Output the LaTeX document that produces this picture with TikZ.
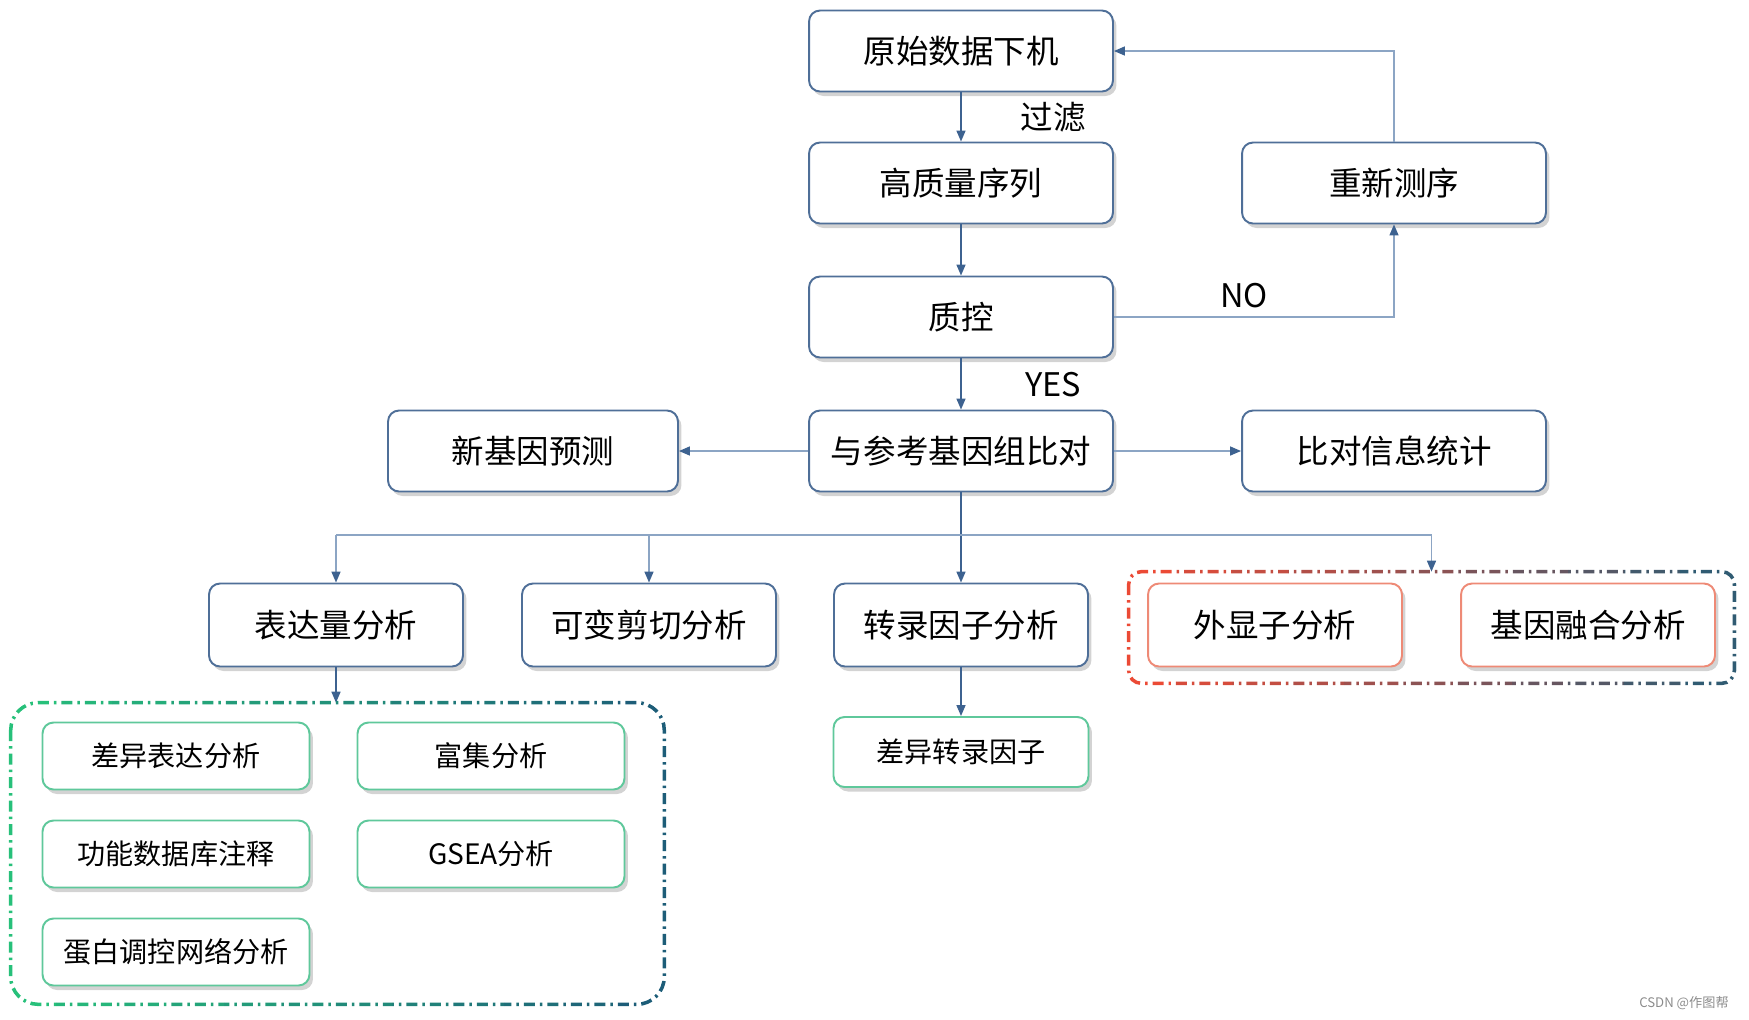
\documentclass[tikz,border=0pt]{standalone}
\usepackage{fontspec}
\setmainfont{Noto Sans CJK SC}
\usetikzlibrary{arrows.meta,shadows}
\definecolor{boxblue}{HTML}{4F6F98}
\definecolor{lineblue}{HTML}{3D6290}
\definecolor{lightline}{HTML}{8CA5C4}
\definecolor{boxgreen}{HTML}{5FC89B}
\definecolor{boxred}{HTML}{EE8A76}
\definecolor{grpgreen}{HTML}{27C07A}
\definecolor{grpteal}{HTML}{1D5D78}
\definecolor{grpred}{HTML}{EB4A35}

\begin{document}
\begin{tikzpicture}[x=0.02cm,y=-0.02cm,
  box/.style={draw=boxblue,line width=1.1pt,fill=white,rounded corners=0.22cm,
    drop shadow={shadow xshift=0.07cm,shadow yshift=-0.09cm,opacity=0.35},
    minimum width=6.08cm,minimum height=1.62cm,font=\fontsize{18.5pt}{22pt}\selectfont},
  sbox/.style={box,minimum width=5.08cm,minimum height=1.66cm},
  gbox/.style={box,draw=boxgreen,minimum width=5.34cm,minimum height=1.34cm,font=\fontsize{16pt}{19pt}\selectfont},
  rbox/.style={sbox,draw=boxred},
  lbl/.style={font=\fontsize{18.5pt}{22pt}\selectfont},
  arr/.style={draw=lineblue,line width=0.85pt,-{Triangle[length=0.22cm,width=0.18cm]}},
  larr/.style={draw=lightline,line width=0.85pt,-{Triangle[length=0.22cm,width=0.18cm,color=lineblue]}},
  grp/.style={line width=2pt,dash pattern=on 0.22cm off 0.1cm on 0.05cm off 0.1cm}]
\useasboundingbox (0,0) rectangle (1749,1019);
%main line
\node[box] (raw) at (961,51) {原始数据下机};
\node[box] (hq) at (961,183) {高质量序列};
\node[box] (qc) at (961,317) {质控};
\node[box] (align) at (961,451) {与参考基因组比对};
\node[box] (reseq) at (1394,183) {重新测序};
\node[box,minimum width=5.8cm] (newgene) at (533,451) {新基因预测};
\node[box] (stat) at (1394,451) {比对信息统计};
\node[lbl] (lfilter) at (1053,117) {过滤};
\node[lbl] (lyes) at (1053,385) {YES};
\node[lbl] (lno) at (1244,296) {NO};
\draw[arr] (raw.south) -- (hq.north);
\draw[arr] (hq.south) -- (qc.north);
\draw[arr] (qc.south) -- (align.north);
\draw[larr] (qc.east) -- (qc.east -| reseq.south) -- (reseq.south);
\draw[larr] (reseq.north) -- (reseq.north |- raw.east) -- (raw.east);
\draw[larr] (align.west) -- (newgene.east);
\draw[larr] (align.east) -- (stat.west);
%analysis row
\node[sbox] (expr) at (336,625) {表达量分析};
\node[sbox] (splice) at (649,625) {可变剪切分析};
\node[sbox] (trans) at (961,625) {转录因子分析};
\node[rbox] (exon) at (1275,625) {外显子分析};
\node[rbox] (fusion) at (1588,625) {基因融合分析};
\node[gbox,minimum width=5.1cm,minimum height=1.4cm] (difftf) at (961,752) {差异转录因子};
\node[minimum width=12.1cm,minimum height=2.22cm,inner sep=0pt] (grpfuse) at (1431.5,627.5) {};
\coordinate (bus) at (961,535);
\draw[arr] (align.south) -- (trans.north);
\draw[draw=lightline,line width=0.85pt] (expr.north |- bus) -- (grpfuse.north |- bus);
\draw[larr] (expr.north |- bus) -- (expr.north);
\draw[larr] (splice.north |- bus) -- (splice.north);
\draw[larr] (grpfuse.north |- bus) -- (grpfuse.north);
\draw[arr] (trans.south) -- (difftf.north);
%expression group
\node[gbox] (deg) at (176,756) {差异表达分析};
\node[gbox] (enrich) at (491,756) {富集分析};
\node[gbox] (annot) at (176,854) {功能数据库注释};
\node[gbox] (gsea) at (491,854) {GSEA分析};
\node[gbox] (ppi) at (176,952) {蛋白调控网络分析};
\node[minimum width=13.06cm,minimum height=6.02cm,inner sep=0pt] (grpexpr) at (337.5,853.5) {};
\draw[arr] (expr.south) -- (expr.south |- grpexpr.north);
\foreach \i in {0,...,11}{
  \pgfmathtruncatemacro\p{100-\i*100/11}
  \begin{scope}
    \clip (\i*56,690) rectangle (\i*56+56,1015);
    \draw[grp,draw=grpgreen!\p!grpteal,rounded corners=0.55cm] (grpexpr.north west) rectangle (grpexpr.south east);
  \end{scope}
  \begin{scope}
    \clip (1120+\i*56,560) rectangle (1176+\i*56,695);
    \draw[grp,draw=grpred!\p!grpteal,rounded corners=0.25cm] (grpfuse.north west) rectangle (grpfuse.south east);
  \end{scope}
}
\node[text=black!45,font=\fontsize{7.5pt}{9pt}\selectfont] (mark) at (1684,1003) {CSDN @作图帮};
\end{tikzpicture}
\end{document}
